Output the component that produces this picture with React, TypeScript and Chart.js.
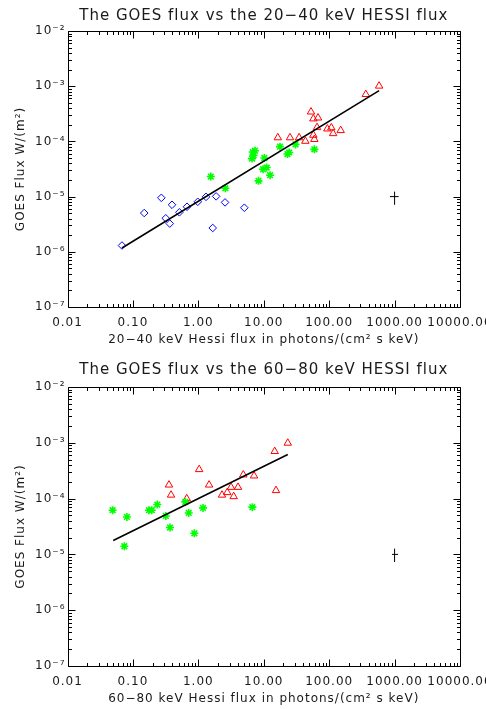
import React, { useEffect, useRef } from "react";
import { Chart, registerables } from "chart.js";

Chart.register(...registerables);

// ---------- axis ticks ----------
const xTickValues = [0.01, 0.1, 1, 10, 100, 1000, 10000];
const yTickValues = [1e-7, 1e-6, 1e-5, 1e-4, 1e-3, 1e-2];
const yTickLabels = ["10⁻⁷", "10⁻⁶", "10⁻⁵", "10⁻⁴", "10⁻³", "10⁻²"];
const minorMultipliers = [2, 3, 4, 5, 6, 7, 8, 9];

// ---------- top panel: 20-40 keV ----------
const topTitle = "The GOES flux vs the 20−40 keV HESSI flux";
const topXTitle = "20−40 keV Hessi flux in photons/(cm² s keV)";
const topBlueX = [0.068, 0.149, 0.272, 0.318, 0.366, 0.396, 0.513, 0.671, 0.98, 1.31, 1.66, 1.87, 2.56, 5.05];
const topBlueY = [1.3e-6, 5.04e-6, 9.5e-6, 4.05e-6, 3.24e-6, 7.11e-6, 5.19e-6, 6.54e-6, 8.05e-6, 9.9e-6, 2.7e-6, 1.01e-5, 7.85e-6, 6.28e-6];
const topGreenX = [1.55, 2.59, 6.62, 6.79, 7.36, 7.0, 10.2, 8.32, 9.75, 11.1, 12.5, 17.7, 23.0, 24.5, 30.6, 59.4];
const topGreenY = [2.31e-5, 1.42e-5, 4.88e-5, 6.41e-5, 6.79e-5, 5.6e-5, 5.0e-5, 1.93e-5, 3.13e-5, 3.36e-5, 2.44e-5, 8.04e-5, 5.9e-5, 6.3e-5, 8.83e-5, 7.18e-5];
const topRedX = [16.4, 25.2, 34.7, 43.3, 52.8, 57.3, 67.6, 65.3, 57.3, 59.4, 93.8, 108, 115, 150, 363, 580];
const topRedY = [1.17e-4, 1.17e-4, 1.17e-4, 1.01e-4, 3.43e-4, 2.57e-4, 2.67e-4, 1.79e-4, 1.3e-4, 1.09e-4, 1.69e-4, 1.77e-4, 1.39e-4, 1.58e-4, 7.11e-4, 1.01e-3];
const topFitX = [0.068, 580];
const topFitY = [1.17e-6, 8.3e-4];
const topErrCenter = [1000, 1e-5];
const topErrX = [850, 1150];
const topErrY = [7.1e-6, 1.23e-5];

// ---------- bottom panel: 60-80 keV ----------
const botTitle = "The GOES flux vs the 60−80 keV HESSI flux";
const botXTitle = "60−80 keV Hessi flux in photons/(cm² s keV)";
const botGreenX = [0.049, 0.074, 0.081, 0.176, 0.194, 0.236, 0.318, 0.369, 0.632, 0.713, 0.869, 1.18, 6.7];
const botGreenY = [6.19e-5, 1.4e-5, 4.69e-5, 6.19e-5, 6.19e-5, 7.83e-5, 4.89e-5, 3.03e-5, 8.73e-5, 5.53e-5, 2.39e-5, 6.81e-5, 7.02e-5];
const botRedX = [0.356, 0.383, 0.665, 1.03, 1.46, 2.3, 2.77, 3.16, 3.47, 4.04, 4.87, 7.11, 14.7, 15.4, 23.3];
const botRedY = [1.76e-4, 1.16e-4, 1.0e-4, 3.33e-4, 1.76e-4, 1.16e-4, 1.29e-4, 1.6e-4, 1.09e-4, 1.6e-4, 2.67e-4, 2.56e-4, 7.02e-4, 1.4e-4, 9.9e-4];
const botFitX = [0.05, 23.3];
const botFitY = [1.77e-5, 6.19e-4];
const botErrCenter = [1000, 1e-5];
const botErrX = [915, 1130];
const botErrY = [7.3e-6, 1.27e-5];

const FONT = "'DejaVu Sans'";
const TEXT = "#1a1a1a";

const pts = (xs: number[], ys: number[]) => xs.map((x, i) => ({ x, y: ys[i] }));

const spacingPlugin = {
  id: "spacing",
  beforeUpdate(chart: any) {
    chart.ctx.letterSpacing = "1px";
  },
  beforeDraw(chart: any) {
    chart.ctx.letterSpacing = "1px";
  },
};

const framePlugin = {
  id: "frame",
  afterDraw(chart: any) {
    const { ctx, chartArea: a, scales } = chart;
    const xs = scales.x;
    const ys = scales.y;
    const MAJOR = 7;
    const MINOR = 3.5;
    ctx.save();
    ctx.strokeStyle = "#000";
    ctx.lineWidth = 1;
    const L = Math.round(a.left) + 0.5;
    const R = Math.round(a.right) + 0.5;
    const T = Math.round(a.top) + 0.5;
    const B = Math.round(a.bottom) + 0.5;
    ctx.beginPath();
    ctx.rect(L, T, R - L, B - T);
    xTickValues.forEach((dec) => {
      [1, ...minorMultipliers].forEach((m) => {
        const v = dec * m;
        if (v > xs.max * 1.0001) return;
        const px = Math.round(xs.getPixelForValue(v)) + 0.5;
        const len = m === 1 ? MAJOR : MINOR;
        ctx.moveTo(px, B);
        ctx.lineTo(px, B - len);
        ctx.moveTo(px, T);
        ctx.lineTo(px, T + len);
      });
    });
    yTickValues.forEach((dec) => {
      [1, ...minorMultipliers].forEach((m) => {
        const v = dec * m;
        if (v > ys.max * 1.0001) return;
        const py = Math.round(ys.getPixelForValue(v)) + 0.5;
        const len = m === 1 ? MAJOR : MINOR;
        ctx.moveTo(L, py);
        ctx.lineTo(L + len, py);
        ctx.moveTo(R, py);
        ctx.lineTo(R - len, py);
      });
    });
    ctx.stroke();
    ctx.restore();
  },
};

type Panel = {
  title: string;
  xTitle: string;
  blue?: { x: number[]; y: number[] };
  green: { x: number[]; y: number[] };
  red: { x: number[]; y: number[] };
  fit: { x: number[]; y: number[] };
  err: { c: number[]; x: number[]; y: number[] };
  titleBottomPad: number;
  xAxisHeight: number;
  xTitlePad: number;
};

function makeConfig(p: Panel): any {
  const datasets: any[] = [];
  datasets.push({
    type: "line",
    data: pts(p.fit.x, p.fit.y),
    showLine: true,
    borderColor: "#000",
    borderWidth: 1.6,
    pointRadius: 0,
  });
  datasets.push({
    type: "line",
    data: pts(p.err.x, [p.err.c[1], p.err.c[1]]),
    showLine: true,
    borderColor: "#000",
    borderWidth: 1,
    pointRadius: 0,
  });
  datasets.push({
    type: "line",
    data: pts([p.err.c[0], p.err.c[0]], p.err.y),
    showLine: true,
    borderColor: "#000",
    borderWidth: 1,
    pointRadius: 0,
  });
  if (p.blue) {
    datasets.push({
      data: pts(p.blue.x, p.blue.y),
      pointStyle: "rectRot",
      pointRadius: 3.8,
      borderColor: "#0000ff",
      backgroundColor: "rgba(0,0,0,0)",
      borderWidth: 1,
    });
  }
  datasets.push({
    data: pts(p.green.x, p.green.y),
    pointStyle: "star",
    pointRadius: 4,
    borderColor: "#00ff00",
    backgroundColor: "#00ff00",
    borderWidth: 1.6,
  });
  datasets.push({
    data: pts(p.red.x, p.red.y),
    pointStyle: "triangle",
    pointRadius: 4.3,
    borderColor: "#ff0000",
    backgroundColor: "rgba(0,0,0,0)",
    borderWidth: 1,
  });

  return {
    type: "scatter",
    data: { datasets },
    options: {
      responsive: false,
      animation: false,
      events: [],
      layout: { padding: { left: 0, right: 26, top: 0, bottom: 0 } },
      plugins: {
        legend: { display: false },
        tooltip: { enabled: false },
        title: {
          display: true,
          text: p.title,
          fullSize: false,
          color: TEXT,
          font: { family: FONT, size: 15, weight: "normal", lineHeight: 1.2 },
          padding: { top: 7.5, bottom: p.titleBottomPad },
        },
      },
      scales: {
        x: {
          type: "logarithmic",
          position: "bottom",
          min: 0.01,
          max: 10000,
          grid: { display: false, drawTicks: false },
          border: { display: false },
          afterBuildTicks: (s: any) => {
            s.ticks = xTickValues.map((v) => ({ value: v }));
          },
          afterFit: (s: any) => {
            s.height = p.xAxisHeight;
            s.paddingLeft = 0;
            s.paddingRight = 0;
          },
          ticks: {
            autoSkip: false,
            maxRotation: 0,
            minRotation: 0,
            padding: 9,
            color: TEXT,
            font: { family: FONT, size: 12, lineHeight: 1.2 },
            callback: (v: any) => Number(v).toFixed(2),
          },
          title: {
            display: true,
            text: p.xTitle,
            color: TEXT,
            font: { family: FONT, size: 12, lineHeight: 1.2 },
            padding: { top: 0, bottom: p.xTitlePad },
          },
        },
        y: {
          type: "logarithmic",
          position: "left",
          min: 1e-7,
          max: 1e-2,
          grid: { display: false, drawTicks: false },
          border: { display: false },
          afterBuildTicks: (s: any) => {
            s.ticks = yTickValues.map((v) => ({ value: v }));
          },
          afterFit: (s: any) => {
            s.width = 67.5;
            s.paddingTop = 0;
            s.paddingBottom = 0;
          },
          ticks: {
            autoSkip: false,
            padding: 2,
            color: TEXT,
            font: { family: FONT, size: 12, lineHeight: 1.2 },
            callback: (_v: any, i: number) => yTickLabels[i],
          },
          title: {
            display: true,
            text: "GOES Flux W/(m²)",
            color: TEXT,
            font: { family: FONT, size: 12, lineHeight: 1.2 },
            padding: { top: 14, bottom: 0 },
          },
        },
      },
    },
    plugins: [spacingPlugin, framePlugin],
  };
}

export default function App() {
  const topRef = useRef<HTMLCanvasElement>(null);
  const botRef = useRef<HTMLCanvasElement>(null);

  useEffect(() => {
    const top = new Chart(
      topRef.current as HTMLCanvasElement,
      makeConfig({
        title: topTitle,
        xTitle: topXTitle,
        blue: { x: topBlueX, y: topBlueY },
        green: { x: topGreenX, y: topGreenY },
        red: { x: topRedX, y: topRedY },
        fit: { x: topFitX, y: topFitY },
        err: { c: topErrCenter, x: topErrX, y: topErrY },
        titleBottomPad: 5.5,
        xAxisHeight: 47,
        xTitlePad: 7.3,
      })
    );
    const bot = new Chart(
      botRef.current as HTMLCanvasElement,
      makeConfig({
        title: botTitle,
        xTitle: botXTitle,
        green: { x: botGreenX, y: botGreenY },
        red: { x: botRedX, y: botRedY },
        fit: { x: botFitX, y: botFitY },
        err: { c: botErrCenter, x: botErrX, y: botErrY },
        titleBottomPad: 7.5,
        xAxisHeight: 43,
        xTitlePad: 3.3,
      })
    );
    return () => {
      top.destroy();
      bot.destroy();
    };
  }, []);

  return (
    <div style={{ position: "absolute", left: 0, top: 0, width: 486, height: 709, background: "#fff" }}>
      <canvas ref={topRef} width={486} height={354} style={{ display: "block", width: 486, height: 354 }} />
      <canvas ref={botRef} width={486} height={355} style={{ display: "block", width: 486, height: 355 }} />
    </div>
  );
}
